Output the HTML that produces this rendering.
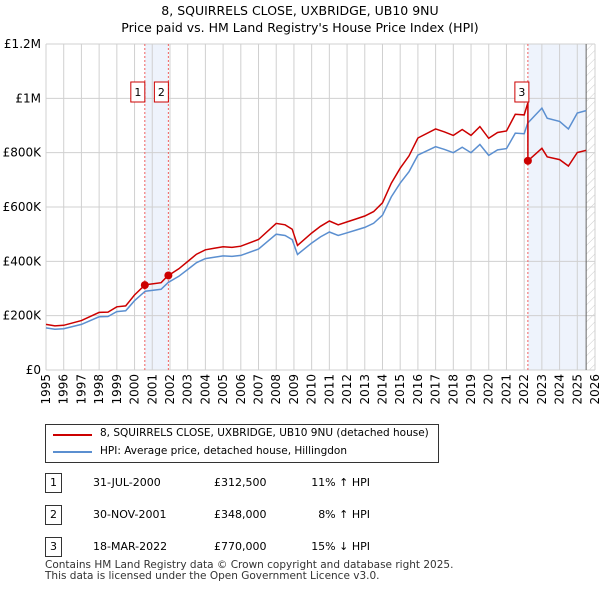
<!DOCTYPE html>
<html><head><meta charset="utf-8"><style>
body{margin:0;background:#fff;font-family:"DejaVu Sans","Liberation Sans",sans-serif;}
#wrap{position:relative;width:600px;height:590px;overflow:hidden}
.t{position:absolute;font-size:12px;color:#000;white-space:nowrap}
svg text{font-family:"DejaVu Sans","Liberation Sans",sans-serif}
</style></head><body><div id="wrap">
<div class="t" style="left:0;width:600px;text-align:center;top:2px;font-size:12.5px;line-height:17px">8, SQUIRRELS CLOSE, UXBRIDGE, UB10 9NU<br>Price paid vs. HM Land Registry's House Price Index (HPI)</div>
<svg id="chart" width="600" height="410" style="position:absolute;left:0;top:0"></svg>
<div style="position:absolute;left:45px;top:424px;width:392px;height:37px;border:1px solid #333"></div>
<svg width="600" height="60" style="position:absolute;left:0;top:420px"><line x1="53" y1="15" x2="92" y2="15" stroke="#cc0000" stroke-width="2"/><line x1="53" y1="32" x2="92" y2="32" stroke="#5b8fd0" stroke-width="2"/></svg>
<div class="t" style="left:100px;top:427px;font-size:10.5px">8, SQUIRRELS CLOSE, UXBRIDGE, UB10 9NU (detached house)</div>
<div class="t" style="left:100px;top:445px;font-size:10.5px">HPI: Average price, detached house, Hillingdon</div>
<div id="rows"></div>
<div class="t" style="left:45px;top:560px;font-size:10.5px;line-height:11px;color:#333">Contains HM Land Registry data © Crown copyright and database right 2025.<br>This data is licensed under the Open Government Licence v3.0.</div>
</div>
<script>
const hpiYears=[1995,1995.5,1996,1997,1998,1998.5,1999,1999.5,2000,2000.6,2001,2001.5,2001.9,2002.5,2003,2003.5,2004,2004.5,2005,2005.5,2006,2007,2008,2008.5,2008.9,2009.2,2010,2010.5,2011,2011.5,2012,2012.5,2013,2013.5,2014,2014.5,2015,2015.5,2016,2017,2017.5,2018,2018.5,2019,2019.5,2020,2020.5,2021,2021.5,2022,2022.2,2023,2023.3,2024,2024.5,2025,2025.5];
const hpiValues=[155,150,152,168,196,197,215,218,255,290,293,297,322,345,370,395,410,415,420,418,422,445,500,495,480,425,467,490,508,495,505,515,525,540,570,637,688,730,791,822,812,800,820,800,830,790,810,815,872,870,909,964,927,915,887,946,955];
const saleDates=[2000.58,2001.91,2022.21];
const salePrices=[312.5,348,770];
const saleLabels=["1","2","3"];
const saleDateText=["31-JUL-2000","30-NOV-2001","18-MAR-2022"];
const salePriceText=["£312,500","£348,000","£770,000"];
const saleHpiText=["11% ↑ HPI","8% ↑ HPI","15% ↓ HPI"];
const yTicks=[0,200,400,600,800,1000,1200];
const yTickLabels=["£0","£200K","£400K","£600K","£800K","£1M","£1.2M"];
const xStart=1995,xEnd=2026;
const X=t=>46+(t-xStart)/(xEnd-xStart)*549;
const Y=v=>370-v/1200*326;
const svg=document.getElementById('chart');const NS='http://www.w3.org/2000/svg';
function el(tag,attrs,parent){const e=document.createElementNS(NS,tag);for(const k in attrs)e.setAttribute(k,attrs[k]);(parent||svg).appendChild(e);return e;}
function hpiAt(t){for(let i=0;i<hpiYears.length-1;i++){if(t<=hpiYears[i+1])return hpiValues[i]+(hpiValues[i+1]-hpiValues[i])*(t-hpiYears[i])/(hpiYears[i+1]-hpiYears[i]);}return hpiValues[hpiValues.length-1];}
let s1=el('rect',{x:X(saleDates[0]),y:44,width:X(saleDates[1])-X(saleDates[0]),height:326,fill:'#eef3fc'});

let s2=el('rect',{x:X(saleDates[2]),y:44,width:X(2025.5)-X(saleDates[2]),height:326,fill:'#eef3fc'});

const defs=el('defs',{});const pat=el('pattern',{id:'h',width:6,height:6,patternUnits:'userSpaceOnUse',patternTransform:'rotate(45)'},defs);el('line',{x1:0,y1:0,x2:0,y2:6,stroke:'#ccc','stroke-width':1},pat);
let hz=el('rect',{x:X(2025.5),y:44,width:X(xEnd)-X(2025.5),height:326,fill:'url(#h)'});

for(let yr=xStart;yr<=xEnd;yr++){el('line',{x1:X(yr),y1:44,x2:X(yr),y2:370,stroke:'#d0d0d0','stroke-width':1});
 let tx=el('text',{x:0,y:0,'font-size':12,'text-anchor':'end',transform:`translate(${X(yr)+4},374) rotate(-90)`});tx.textContent=yr;
 }
yTicks.forEach((v,i)=>{el('line',{x1:46,y1:Y(v),x2:595,y2:Y(v),stroke:'#d0d0d0','stroke-width':1});
 let tx=el('text',{x:41,y:Y(v)+4,'font-size':12,'text-anchor':'end'});tx.textContent=yTickLabels[i];
 });
el('line',{x1:X(2025.5),y1:44,x2:X(2025.5),y2:370,stroke:'#666','stroke-width':1});
saleDates.forEach(d=>{let l=el('line',{x1:X(d),y1:44,x2:X(d),y2:370,stroke:'#f06060','stroke-width':1,'stroke-dasharray':'2,2'});});
let pts=hpiYears.map((t,i)=>X(t).toFixed(1)+','+Y(hpiValues[i]).toFixed(1)).join(' ');
let hl=el('polyline',{points:pts,fill:'none',stroke:'#5b8fd0','stroke-width':1.5});

const ratios=saleDates.map((d,i)=>salePrices[i]/hpiAt(d));
function ratioAt(t){let r=ratios[0];for(let i=0;i<saleDates.length;i++)if(t>=saleDates[i])r=ratios[i];return r;}
let ts=hpiYears.slice();saleDates.forEach((d,i)=>{ts.push(d);ts.push(d-0.001);});ts.sort((a,b)=>a-b);
let rp=ts.map(t=>X(t).toFixed(1)+','+Y(hpiAt(t)*ratioAt(t)).toFixed(1)).join(' ');
let rl=el('polyline',{points:rp,fill:'none',stroke:'#cc0000','stroke-width':1.5});

saleDates.forEach((d,i)=>{let c=el('circle',{cx:X(d),cy:Y(salePrices[i]),r:4,fill:'#cc0000'});
 
 let bx=el('rect',{x:X(d)-(i==2?13:20)+(i==2?0:6),y:82,width:14,height:20,fill:'#fff',stroke:'#cc0000'});
 
 let tx=el('text',{x:+bx.getAttribute('x')+7,y:96,'font-size':11,'text-anchor':'middle'});tx.textContent=saleLabels[i];
 });
const rows=document.getElementById('rows');
saleLabels.forEach((lab,i)=>{const top=473+i*32;
 rows.insertAdjacentHTML('beforeend',`<div style="position:absolute;left:45px;top:${top}px;width:15px;height:18px;border:1px solid #333;font-size:11px;text-align:center;line-height:18px">${lab}</div>
 <div class="t" style="left:93px;top:${top+3}px;font-size:11px">${saleDateText[i]}</div>
 <div class="t" style="left:214px;top:${top+3}px;font-size:11px">${salePriceText[i]}</div>
 <div class="t" style="left:300px;width:70px;text-align:right;top:${top+3}px;font-size:11px">${saleHpiText[i]}</div>`);});
</script></body></html>
